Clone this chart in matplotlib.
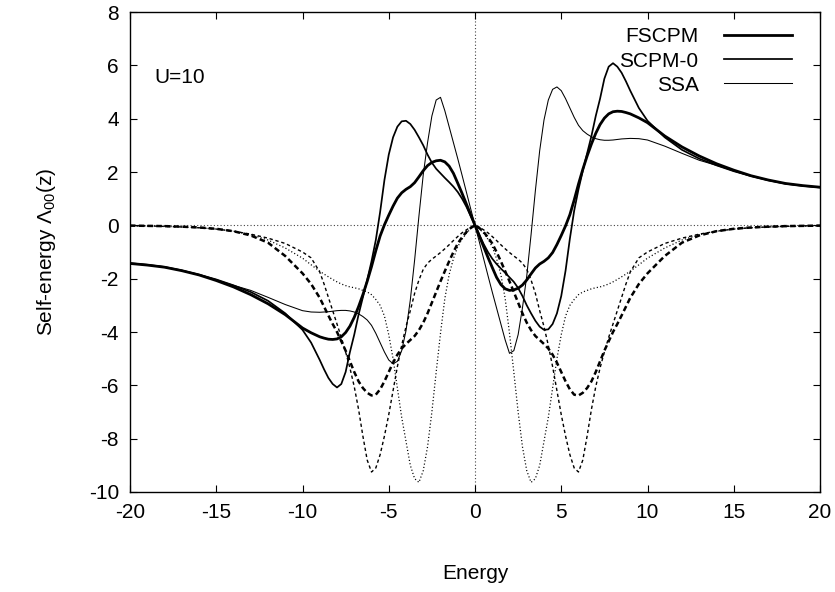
import matplotlib
matplotlib.use("Agg")
import matplotlib.pyplot as plt

plt.rcParams['font.family'] = ['Liberation Sans', 'DejaVu Sans']
plt.rcParams['mathtext.fontset'] = 'custom'
plt.rcParams['mathtext.rm'] = 'Liberation Sans'
plt.rcParams['mathtext.it'] = 'Liberation Sans:italic'
plt.rcParams['axes.unicode_minus'] = False

# energy grid, negative and positive halves
energy_neg = [-20, -19, -18, -17, -16, -15, -14, -13, -12, -11, -10, -9.5,
              -9.0, -8.75, -8.5, -8.25, -8.0, -7.75, -7.5, -7.25, -7.0, -6.75,
              -6.5, -6.25, -6.0, -5.75, -5.5, -5.25, -5.0, -4.75, -4.5, -4.25,
              -4.0, -3.75, -3.5, -3.25, -3.0, -2.75, -2.5, -2.25, -2.0, -1.75,
              -1.5, -1.25, -1.0, -0.75, -0.5, -0.25]
energy_pos = [0, 0.25, 0.5, 0.75, 1.0, 1.25, 1.5, 1.75, 2.0, 2.25, 2.5, 2.75,
              3.0, 3.25, 3.5, 3.75, 4.0, 4.25, 4.5, 4.75, 5.0, 5.25, 5.5, 5.75,
              6.0, 6.25, 6.5, 6.75, 7.0, 7.25, 7.5, 7.75, 8.0, 8.25, 8.5, 8.75,
              9.0, 9.5, 10, 11, 12, 13, 14, 15, 16, 17, 18, 19, 20]

# real parts
fscpm_re_neg = [-1.43, -1.49, -1.57, -1.7, -1.86, -2.07, -2.31, -2.6, -2.94, -3.35,
                -3.85, -4.03, -4.18, -4.23, -4.27, -4.28, -4.26, -4.18, -4.02, -3.78,
                -3.45, -3.05, -2.6, -2.1, -1.55, -0.95, -0.4, 0.02, 0.38, 0.72,
                1.02, 1.22, 1.35, 1.45, 1.6, 1.82, 2.05, 2.24, 2.36, 2.42,
                2.44, 2.38, 2.22, 1.95, 1.58, 1.2, 0.8, 0.4]
fscpm_re_pos = [0, -0.4, -0.8, -1.2, -1.58, -1.95, -2.22, -2.38, -2.44, -2.42,
                -2.36, -2.24, -2.05, -1.82, -1.6, -1.45, -1.35, -1.22, -1.02, -0.72,
                -0.38, -0.02, 0.4, 0.95, 1.55, 2.1, 2.6, 3.05, 3.45, 3.78,
                4.02, 4.18, 4.26, 4.28, 4.27, 4.23, 4.18, 4.03, 3.85,
                3.35, 2.94, 2.6, 2.31, 2.07, 1.86, 1.7, 1.57, 1.49, 1.43]
scpm0_re_neg = [-1.42, -1.48, -1.56, -1.69, -1.85, -2.03, -2.25, -2.5, -2.83, -3.3,
                -3.92, -4.4, -5.05, -5.4, -5.72, -5.95, -6.08, -5.95, -5.5, -4.75,
                -4.1, -3.35, -2.7, -2.05, -1.35, -0.55, 0.5, 1.7, 2.65, 3.3,
                3.7, 3.9, 3.92, 3.8, 3.58, 3.3, 3.0, 2.65, 2.35, 2.12,
                1.95, 1.78, 1.62, 1.45, 1.25, 1.0, 0.7, 0.35]
scpm0_re_pos = [0, -0.35, -0.7, -1.0, -1.25, -1.45, -1.62, -1.78, -1.95, -2.12,
                -2.35, -2.65, -3.0, -3.3, -3.58, -3.8, -3.92, -3.9, -3.7, -3.3,
                -2.65, -1.7, -0.5, 0.55, 1.35, 2.05, 2.7, 3.35, 4.1, 4.75,
                5.5, 5.95, 6.08, 5.95, 5.72, 5.4, 5.05, 4.4, 3.92,
                3.3, 2.83, 2.5, 2.25, 2.03, 1.85, 1.69, 1.56, 1.48, 1.42]
ssa_re_neg = [-1.42, -1.48, -1.56, -1.69, -1.85, -2.04, -2.25, -2.44, -2.7, -2.97,
              -3.2, -3.25, -3.26, -3.25, -3.24, -3.22, -3.2, -3.19, -3.19, -3.21,
              -3.25, -3.32, -3.42, -3.55, -3.75, -4.05, -4.4, -4.75, -5.05, -5.19,
              -5.1, -4.7, -3.95, -2.8, -1.3, 0.35, 1.9, 3.1, 4.1, 4.7,
              4.8, 4.3, 3.7, 3.1, 2.5, 1.88, 1.25, 0.62]
ssa_re_pos = [0, -0.62, -1.25, -1.88, -2.5, -3.1, -3.7, -4.3, -4.8, -4.7,
              -4.1, -3.1, -1.9, -0.35, 1.3, 2.8, 3.95, 4.7, 5.1, 5.19,
              5.05, 4.75, 4.4, 4.05, 3.75, 3.55, 3.42, 3.32, 3.25, 3.21,
              3.19, 3.19, 3.2, 3.22, 3.24, 3.25, 3.26, 3.25, 3.2,
              2.97, 2.7, 2.44, 2.25, 2.04, 1.85, 1.69, 1.56, 1.48, 1.42]

# imaginary parts
fscpm_im_neg = [-0.01, -0.02, -0.03, -0.05, -0.08, -0.13, -0.22, -0.38, -0.65, -1.15,
                -1.8, -2.2, -2.72, -3.05, -3.38, -3.7, -4.0, -4.35, -4.7, -5.1,
                -5.5, -5.85, -6.1, -6.28, -6.38, -6.35, -6.15, -5.85, -5.5, -5.15,
                -4.85, -4.62, -4.45, -4.3, -4.15, -3.93, -3.65, -3.3, -2.9, -2.5,
                -2.1, -1.72, -1.35, -1.0, -0.68, -0.45, -0.25, -0.1]
fscpm_im_pos = [0, -0.1, -0.25, -0.45, -0.68, -1.0, -1.35, -1.72, -2.1, -2.5,
                -2.9, -3.3, -3.65, -3.93, -4.15, -4.3, -4.45, -4.62, -4.85, -5.15,
                -5.5, -5.85, -6.15, -6.35, -6.38, -6.28, -6.1, -5.85, -5.5, -5.1,
                -4.7, -4.35, -4.0, -3.7, -3.38, -3.05, -2.72, -2.2, -1.8,
                -1.15, -0.65, -0.38, -0.22, -0.13, -0.08, -0.05, -0.03, -0.02, -0.01]
scpm0_im_neg = [-0.01, -0.02, -0.04, -0.06, -0.09, -0.14, -0.22, -0.33, -0.48, -0.68,
                -1.0, -1.22, -1.75, -2.2, -2.7, -3.2, -3.7, -4.2, -4.75, -5.35,
                -6.05, -6.9, -7.9, -8.8, -9.25, -9.1, -8.6, -7.9, -7.1, -6.2,
                -5.3, -4.5, -3.8, -3.2, -2.55, -2.05, -1.65, -1.42, -1.27, -1.15,
                -1.02, -0.88, -0.73, -0.57, -0.42, -0.28, -0.17, -0.07]
scpm0_im_pos = [0, -0.07, -0.17, -0.28, -0.42, -0.57, -0.73, -0.88, -1.02, -1.15,
                -1.27, -1.42, -1.65, -2.05, -2.55, -3.2, -3.8, -4.5, -5.3, -6.2,
                -7.1, -7.9, -8.6, -9.1, -9.25, -8.8, -7.9, -6.9, -6.05, -5.35,
                -4.75, -4.2, -3.7, -3.2, -2.7, -2.2, -1.75, -1.22, -1.0,
                -0.68, -0.48, -0.33, -0.22, -0.14, -0.09, -0.06, -0.04, -0.02, -0.01]
ssa_im_neg = [-0.02, -0.03, -0.04, -0.06, -0.09, -0.14, -0.22, -0.35, -0.55, -0.85,
              -1.23, -1.48, -1.72, -1.83, -1.93, -2.03, -2.12, -2.2, -2.26, -2.31,
              -2.34, -2.38, -2.44, -2.5, -2.6, -2.78, -3.0, -3.4, -4.1, -5.0,
              -6.1, -7.2, -8.1, -9.0, -9.5, -9.64, -9.2, -8.3, -7.0, -5.5,
              -4.05, -2.75, -1.85, -1.25, -0.8, -0.52, -0.3, -0.12]
ssa_im_pos = [0, -0.12, -0.3, -0.52, -0.8, -1.25, -1.85, -2.75, -4.05, -5.5,
              -7.0, -8.3, -9.2, -9.64, -9.5, -9.0, -8.1, -7.2, -6.1, -5.0,
              -4.1, -3.4, -3.0, -2.78, -2.6, -2.5, -2.44, -2.38, -2.34, -2.31,
              -2.26, -2.2, -2.12, -2.03, -1.93, -1.83, -1.72, -1.48, -1.23,
              -0.85, -0.55, -0.35, -0.22, -0.14, -0.09, -0.06, -0.04, -0.03, -0.02]

labels = ['FSCPM', 'SCPM-0', 'SSA']
x_ticks = [-20, -15, -10, -5, 0, 5, 10, 15, 20]
y_ticks = [-10, -8, -6, -4, -2, 0, 2, 4, 6, 8]

energy = energy_neg + energy_pos

fig = plt.figure(figsize=(8.35, 5.92), dpi=100)
ax = fig.add_axes([130 / 835, 100 / 592, 690 / 835, 480 / 592])

# zero axes
ax.axhline(0, color='#444444', lw=0.8, ls=(0, (1, 2)), zorder=1)
ax.axvline(0, color='#444444', lw=0.8, ls=(0, (1, 2)), zorder=1)

kw = dict(color='black', solid_joinstyle='round', dash_joinstyle='round')
ax.plot(energy, fscpm_re_neg + fscpm_re_pos, lw=2.0, label=labels[0], **kw)
ax.plot(energy, scpm0_re_neg + scpm0_re_pos, lw=1.25, label=labels[1], **kw)
ax.plot(energy, ssa_re_neg + ssa_re_pos, lw=0.75, label=labels[2], **kw)
ax.plot(energy, fscpm_im_neg + fscpm_im_pos, lw=1.8, ls=(0, (2.2, 1.3)), **kw)
ax.plot(energy, scpm0_im_neg + scpm0_im_pos, lw=1.0, ls=(0, (2.4, 2.0)), **kw)
ax.plot(energy, ssa_im_neg + ssa_im_pos, lw=0.9, ls=(0, (0.9, 1.8)), **kw)

ax.set_xlim(-20, 20)
ax.set_ylim(-10, 8)
ax.set_xticks(x_ticks)
ax.set_yticks(y_ticks)
ax.tick_params(direction='in', length=5, width=0.8, top=True, right=True,
               labelsize=15, pad=8)
for s in ax.spines.values():
    s.set_linewidth(1.0)

ax.text(-18.6, 5.55, 'U=10', fontsize=15, va='center')

ax.set_xlabel('Energy', fontsize=15, labelpad=30)
ax.set_ylabel(r'Self-energy $\mathregular{\Lambda_{00}}$(z)', fontsize=15,
              labelpad=22)

leg = ax.legend(loc='upper right', bbox_to_anchor=(0.96, 0.968), frameon=False,
                markerfirst=False, fontsize=15, handlelength=3.3,
                handletextpad=1.2, labelspacing=0.25, borderpad=0,
                borderaxespad=0)

fig.savefig('out.png', dpi=100)
